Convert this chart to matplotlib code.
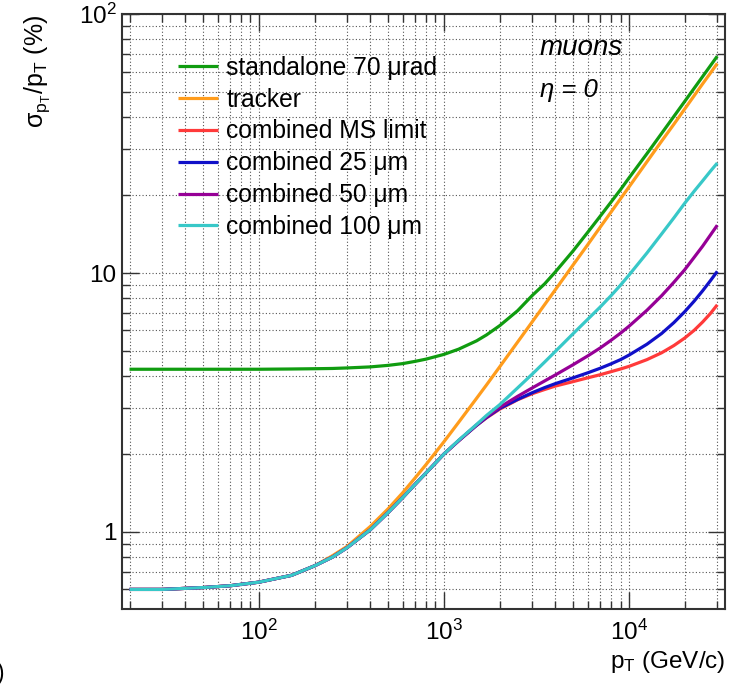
import numpy as np
import matplotlib
matplotlib.use("Agg")
import matplotlib.pyplot as plt
from matplotlib.ticker import LogLocator, NullFormatter, FixedLocator, FixedFormatter

plt.rcParams['font.family'] = ['Liberation Sans', 'DejaVu Sans']
plt.rcParams['mathtext.fontset'] = 'custom'
plt.rcParams['mathtext.rm'] = 'Liberation Sans'
plt.rcParams['mathtext.it'] = 'Liberation Sans:italic'
plt.rcParams['mathtext.bf'] = 'Liberation Sans:bold'

# transverse momentum points (GeV/c)
pt = [20, 30, 50, 70, 100, 150, 200, 250, 300, 400, 500, 600, 700, 800,
      1000, 1200, 1500, 1700, 2000, 2500, 3000, 3500, 4000, 5000, 6000, 7000,
      8000, 9000, 10000, 12500, 15000, 17500, 20000, 22500, 25000, 27500, 30000]

# relative pT resolution (%)
standalone = [4.25, 4.25, 4.25, 4.25, 4.25, 4.26, 4.27, 4.28, 4.30, 4.34, 4.40,
              4.47, 4.56, 4.65, 4.85, 5.08, 5.47, 5.77, 6.26, 7.15, 8.19, 9.08,
              10.1, 12.2, 14.4, 16.6, 18.8, 21.0, 23.3, 28.9, 34.6, 40.3, 46.0,
              51.7, 57.4, 63.1, 68.8]
tracker = [0.60, 0.60, 0.61, 0.62, 0.64, 0.68, 0.74, 0.81, 0.88, 1.05, 1.23,
           1.42, 1.62, 1.82, 2.23, 2.65, 3.28, 3.70, 4.34, 5.41, 6.48, 7.55,
           8.62, 10.77, 12.9, 15.06, 17.2, 19.36, 21.5, 26.9, 32.3, 37.6, 43.0,
           48.4, 53.8, 59.1, 64.5]
comb_ms = [0.60, 0.60, 0.61, 0.62, 0.64, 0.68, 0.74, 0.80, 0.87, 1.02, 1.19,
           1.36, 1.53, 1.69, 2.00, 2.25, 2.58, 2.76, 2.98, 3.24, 3.42, 3.55,
           3.66, 3.81, 3.94, 4.05, 4.16, 4.26, 4.36, 4.63, 4.92, 5.25, 5.61,
           6.01, 6.47, 6.97, 7.54]
comb_25 = [0.60, 0.60, 0.61, 0.62, 0.64, 0.68, 0.74, 0.80, 0.87, 1.02, 1.19,
           1.36, 1.53, 1.69, 2.00, 2.25, 2.58, 2.77, 3.00, 3.25, 3.45, 3.61,
           3.74, 3.94, 4.12, 4.29, 4.46, 4.63, 4.82, 5.31, 5.84, 6.44, 7.09,
           7.79, 8.54, 9.33, 10.15]
comb_50 = [0.60, 0.60, 0.61, 0.62, 0.64, 0.68, 0.74, 0.80, 0.87, 1.02, 1.19,
           1.36, 1.53, 1.69, 2.00, 2.25, 2.59, 2.79, 3.03, 3.34, 3.60, 3.83,
           4.04, 4.43, 4.79, 5.14, 5.50, 5.86, 6.23, 7.18, 8.17, 9.22, 10.3,
           11.5, 12.7, 14.0, 15.3]
comb_100 = [0.60, 0.60, 0.61, 0.62, 0.64, 0.68, 0.74, 0.80, 0.87, 1.02, 1.19,
            1.36, 1.53, 1.69, 2.00, 2.26, 2.60, 2.82, 3.10, 3.60, 4.07, 4.53,
            4.98, 5.84, 6.64, 7.40, 8.18, 8.98, 9.82, 11.95, 14.15, 16.35, 18.6,
            20.7, 22.7, 24.7, 26.6]

labels = ['standalone 70 μrad', 'tracker', 'combined MS limit',
          'combined 25 μm', 'combined 50 μm', 'combined 100 μm']
colors = ['#109c10', '#ff9c1c', '#ff3a3a', '#1010c8', '#960096', '#38c8c8']
series = [standalone, tracker, comb_ms, comb_25, comb_50, comb_100]

fig = plt.figure(figsize=(7.39, 6.87), dpi=100)
ax = fig.add_axes([0.165, 0.1135, 0.816, 0.866])

for y, c, lab in zip(series, colors, labels):
    ax.plot(pt, y, color=c, lw=2.3, label=lab, solid_capstyle='butt',
            solid_joinstyle='round')

ax.set_xscale('log')
ax.set_yscale('log')
ax.set_xlim(18.2, 33000)
ax.set_ylim(0.504, 100)

ax.xaxis.set_major_locator(FixedLocator([100, 1000, 10000]))
ax.xaxis.set_major_formatter(FixedFormatter([r'$\mathregular{10^{2}}$',
                                             r'$\mathregular{10^{3}}$',
                                             r'$\mathregular{10^{4}}$']))
ax.yaxis.set_major_locator(FixedLocator([1, 10, 100]))
ax.yaxis.set_major_formatter(FixedFormatter(['1', '10', r'$\mathregular{10^{2}}$']))
ax.xaxis.set_minor_locator(LogLocator(base=10, subs=np.arange(2, 10), numticks=20))
ax.yaxis.set_minor_locator(LogLocator(base=10, subs=np.arange(2, 10), numticks=20))
ax.xaxis.set_minor_formatter(NullFormatter())
ax.yaxis.set_minor_formatter(NullFormatter())

ax.tick_params(which='both', direction='in', top=True, right=True,
               labelsize=17.5, width=1.0, color='#333333')
ax.tick_params(which='major', length=12)
ax.tick_params(which='minor', length=5.5)
ax.tick_params(axis='x', which='major', pad=8)
ax.tick_params(axis='y', which='major', pad=4)
ax.grid(which='both', linestyle=(0, (1, 2)), color='#555555', linewidth=0.8)
for s in ax.spines.values():
    s.set_linewidth(1.5)
    s.set_color('#333333')

fig.text(725 / 739, 1 - 662 / 687, r'$\mathregular{p_{T}}$ (GeV/c)',
         fontsize=17.5, ha='right', va='center')
fig.text(37 / 739, 1 - 15 / 687, r'$\mathregular{\sigma_{p_{T}}/p_{T}}$ (%)',
         fontsize=18, rotation=90, ha='center', va='top')

ax.legend(loc='upper left', bbox_to_anchor=(0.093, 0.93), frameon=False,
          fontsize=17.7, handlelength=1.63, handletextpad=0.33,
          labelspacing=0.32, borderaxespad=0, borderpad=0)

ax.text(0.693, 0.943, 'muons', transform=ax.transAxes, fontsize=20,
        style='italic', va='center')
ax.text(0.693, 0.872, 'η = 0', transform=ax.transAxes, fontsize=18.5,
        style='italic', va='center')

fig.text(-0.004, 0.02, ')', fontsize=16.5, va='center')

fig.savefig('out.png', dpi=100)
